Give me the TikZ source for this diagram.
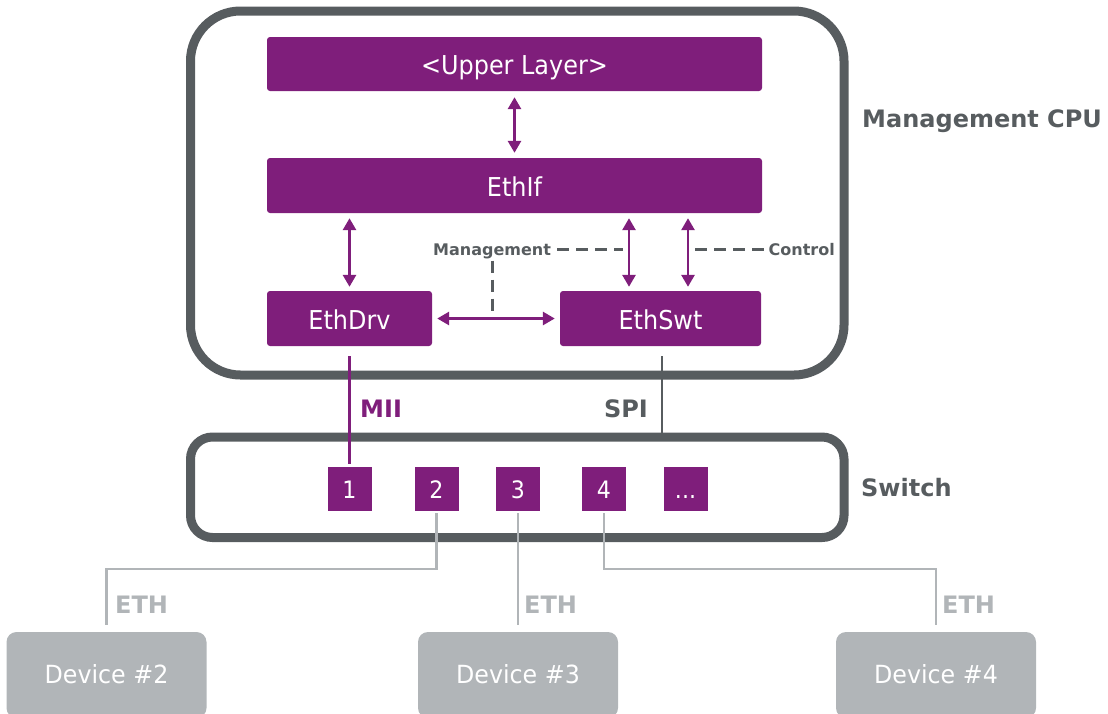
\documentclass[tikz,border=0pt]{standalone}
\usepackage{fontspec}
\setmainfont{DejaVu Sans}
\newfontfamily\boxfont[FakeStretch=0.92]{DejaVu Sans}
\newfontfamily\devfont[FakeStretch=0.95]{DejaVu Sans}
\usetikzlibrary{arrows.meta,calc}
\definecolor{vpurple}{HTML}{7F1E7B}
\definecolor{dgray}{HTML}{575C5F}
\definecolor{lgray}{HTML}{B1B5B8}
\begin{document}
\begin{tikzpicture}[x=1pt,y=-1pt,
 pbox/.style={fill=vpurple, rounded corners=3pt, text=white, inner sep=0pt,
   font=\boxfont\fontsize{26}{26}\selectfont, text height=21pt, text depth=0pt},
 portbox/.style={fill=vpurple, text=white, inner sep=0pt, minimum width=44pt, minimum height=44pt,
   font=\boxfont\fontsize{24}{24}\selectfont, text height=18pt, text depth=0pt},
 devbox/.style={fill=lgray, rounded corners=10pt, text=white, inner sep=0pt, minimum width=200pt,
   minimum height=86pt, font=\devfont\fontsize{25}{25}\selectfont, text height=16pt, text depth=0pt},
 cpuframe/.style={draw=dgray, line width=9pt, rounded corners=#1, inner sep=0pt},
 parrow/.style={draw=vpurple, line width=2.8pt, {Triangle[width=13pt,length=12pt]}-{Triangle[width=13pt,length=12pt]}},
 dashline/.style={draw=dgray, line width=3pt, dash pattern=on 12pt off 7pt},
 lbl/.style={inner sep=0pt, font=\bfseries\fontsize{24}{24}\selectfont},
 smalllbl/.style={inner sep=0pt, text=dgray, font=\bfseries\fontsize{16}{16}\selectfont},
 ethline/.style={draw=lgray, line width=2.8pt},
 plainline/.style={line width=2.8pt},
]
\useasboundingbox (0,0) rectangle (1108,713);
\clip (0,0) rectangle (1108,713);

% frames
\node[cpuframe=50pt, minimum width=653.5pt, minimum height=364pt] (cpu) at (517.25,193) {};
\node[cpuframe=22pt, minimum width=653.5pt, minimum height=100.5pt] (switch) at (517.25,487.25) {};

% purple boxes
\node[pbox, minimum width=495pt, minimum height=54pt] (ul) at (514.5,64) {<Upper Layer>};
\node[pbox, minimum width=495pt, minimum height=55pt] (ethif) at (514.5,185.5) {EthIf};
\node[pbox, minimum width=165pt, minimum height=55pt] (ethdrv) at (349.5,318.5) {EthDrv};
\node[pbox, minimum width=201pt, minimum height=55pt] (ethswt) at (660.5,318.5) {EthSwt};

% ports
\node[portbox] (p1) at (349.5,489) {1};
\node[portbox] (p2) at (436.5,489) {2};
\node[portbox] (p3) at (518,489) {3};
\node[portbox] (p4) at (604,489) {4};
\node[portbox] (p5) at (685.5,489) {...};

% devices
\node[devbox] (d2) at (106.5,675) {Device \#2};
\node[devbox] (d3) at (518,675) {Device \#3};
\node[devbox] (d4) at (936,675) {Device \#4};

% labels
\node[lbl, text=dgray, anchor=base west] (cpulbl) at (862,127) {Management CPU};
\node[lbl, text=dgray, anchor=base west] (swlbl) at (861,496) {Switch};
\node[lbl, text=vpurple, anchor=base west] (mii) at (360,417) {MII};
\node[lbl, text=dgray, anchor=base east] (spi) at (648,417) {SPI};
\node[smalllbl, anchor=base west] (mgmt) at (433,255) {Management};
\node[smalllbl, anchor=base east] (ctrl) at (835,255) {Control};
\node[lbl, text=lgray, anchor=base west] (eth2) at (115,613) {ETH};
\node[lbl, text=lgray, anchor=base west] (eth3) at (524,613) {ETH};
\node[lbl, text=lgray, anchor=base west] (eth4) at (942,613) {ETH};

% helper coordinates
\coordinate (a1) at ($(ethswt.north)+(-31.5,0)$);
\coordinate (a2) at ($(ethswt.north)+(27.5,0)$);
\coordinate (dashy) at (0,249);
\coordinate (bus) at (0,569);

% arrows
\draw[parrow] ($(ul.south)+(0,6)$) -- ($(ethif.north)+(0,-5)$);
\draw[parrow] ($(ethdrv.north |- ethif.south)+(0,5)$) -- ($(ethdrv.north)+(0,-4)$);
\draw[parrow] ($(a1 |- ethif.south)+(0,5)$) -- ($(a1)+(0,-4)$);
\draw[parrow] ($(a2 |- ethif.south)+(0,5)$) -- ($(a2)+(0,-4)$);
\draw[parrow] ($(ethdrv.east)+(5,0)$) -- ($(ethswt.west)+(-5,0)$);

% dashed annotation lines
\draw[dashline] ($(mgmt.east |- dashy)+(6,0)$) -- ($(a1 |- dashy)+(-6,0)$);
\draw[dashline] ($(a2 |- dashy)+(7,0)$) -- ($(ctrl.west |- dashy)+(-2,0)$);
\draw[dashline] ($(mgmt.south)+(0,2)$) -- ($(mgmt.south |- ethdrv.east)+(0,-4)$);

% MII and SPI
\draw[plainline, draw=vpurple] ($(ethdrv.south)+(0,10)$) -- ($(p1.north)+(0,-3)$);
\draw[plainline, draw=dgray] ($(ethswt.south)+(1.5,10)$) -- ($(ethswt.south |- switch.north)+(1.5,0)$);

% ETH lines
\draw[ethline] ($(p2.south)+(0,2)$) -- (p2.south |- bus) -| ($(d2.north)+(0,-7)$);
\draw[ethline] ($(p3.south)+(0,2)$) -- ($(d3.north)+(0,-7)$);
\draw[ethline] ($(p4.south)+(0,2)$) -- (p4.south |- bus) -| ($(d4.north)+(0,-7)$);
\end{tikzpicture}
\end{document}
